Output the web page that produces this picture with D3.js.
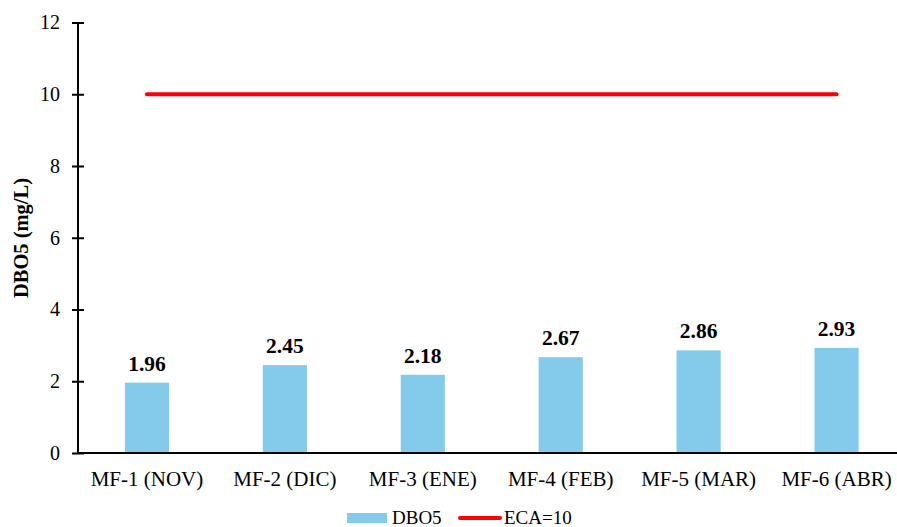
<!DOCTYPE html>
<html>
<head>
<meta charset="utf-8">
<script src="https://cdn.jsdelivr.net/npm/d3@7"></script>
<style>
  body { margin: 0; background: #fff; }
</style>
</head>
<body>
<svg id="chart" width="897" height="527"></svg>
<script>
const categories = ['MF-1 (NOV)', 'MF-2 (DIC)', 'MF-3 (ENE)', 'MF-4 (FEB)', 'MF-5 (MAR)', 'MF-6 (ABR)'];
const dbo5 = [1.96, 2.45, 2.18, 2.67, 2.86, 2.93];
const eca = [10, 10, 10, 10, 10, 10];
const yTicks = [0, 2, 4, 6, 8, 10, 12];
const FONT = '"Liberation Serif"';

const svg = d3.select('#chart');

const x = d3.scaleBand()
  .domain(categories)
  .range([78, 905.5])
  .paddingInner(0.68)
  .paddingOuter(0.34);

const y = d3.scaleLinear().domain([0, 12]).range([453, 22.5]);

// bars
svg.append('g')
  .selectAll('rect')
  .data(dbo5)
  .join('rect')
  .attr('x', (d, i) => x(categories[i]))
  .attr('y', d => y(d))
  .attr('width', x.bandwidth())
  .attr('height', d => y(0) - y(d))
  .attr('fill', '#83caeb');

// value labels
svg.append('g')
  .selectAll('text')
  .data(dbo5)
  .join('text')
  .attr('x', (d, i) => x(categories[i]) + x.bandwidth() / 2)
  .attr('y', d => y(d) - 12)
  .attr('text-anchor', 'middle')
  .style('font-family', FONT)
  .style('font-size', '21.5px')
  .style('font-weight', 'bold')
  .text(d => d.toFixed(2));

// ECA line
const line = d3.line()
  .x((d, i) => x(categories[i]) + x.bandwidth() / 2)
  .y(d => y(d));
svg.append('path')
  .datum(eca)
  .attr('d', line)
  .attr('fill', 'none')
  .attr('stroke', '#ff0000')
  .attr('stroke-width', 4)
  .attr('stroke-linecap', 'round');

// y axis
const yAxis = svg.append('g')
  .attr('transform', 'translate(78,0)')
  .call(d3.axisLeft(y).tickValues(yTicks).tickSize(0).tickPadding(0).tickFormat(d3.format('d')));
yAxis.attr('font-family', null).attr('font-size', null);
yAxis.select('.domain').attr('stroke', '#000').attr('stroke-width', 2).attr('d', `M0,${y(12)}V${y(0)}`);
yAxis.selectAll('.tick line').attr('x1', -6).attr('x2', 6).attr('stroke', '#000').attr('stroke-width', 2);
yAxis.selectAll('.tick text')
  .attr('x', -18)
  .style('font-size', '20px')
  .style('font-family', FONT)
  .attr('fill', '#000');

// x axis
const xAxis = svg.append('g')
  .attr('transform', `translate(0,${y(0)})`)
  .call(d3.axisBottom(x).tickSize(0).tickPadding(0));
xAxis.attr('font-family', null).attr('font-size', null);
xAxis.select('.domain').attr('stroke', '#000').attr('stroke-width', 2).attr('d', 'M77,0H905.5');
xAxis.selectAll('.tick text')
  .attr('dy', null)
  .attr('y', 33)
  .style('font-size', '21px')
  .style('font-family', FONT)
  .attr('fill', '#000');

// y title
svg.append('text')
  .attr('transform', 'translate(28,238) rotate(-90)')
  .attr('text-anchor', 'middle')
  .style('font-family', FONT)
  .style('font-size', '20.5px')
  .style('font-weight', 'bold')
  .text('DBO5 (mg/L)');

// legend
const legend = svg.append('g');
legend.append('rect')
  .attr('x', 347).attr('y', 513).attr('width', 40).attr('height', 10)
  .attr('fill', '#83caeb');
legend.append('text')
  .attr('x', 392).attr('y', 524)
  .style('font-family', FONT)
  .style('font-size', '19px')
  .text('DBO5');
legend.append('line')
  .attr('x1', 460).attr('x2', 500).attr('y1', 518).attr('y2', 518)
  .attr('stroke', '#ff0000').attr('stroke-width', 4).attr('stroke-linecap', 'round');
legend.append('text')
  .attr('x', 504).attr('y', 524)
  .style('font-family', FONT)
  .style('font-size', '19px')
  .text('ECA=10');
</script>
</body>
</html>
